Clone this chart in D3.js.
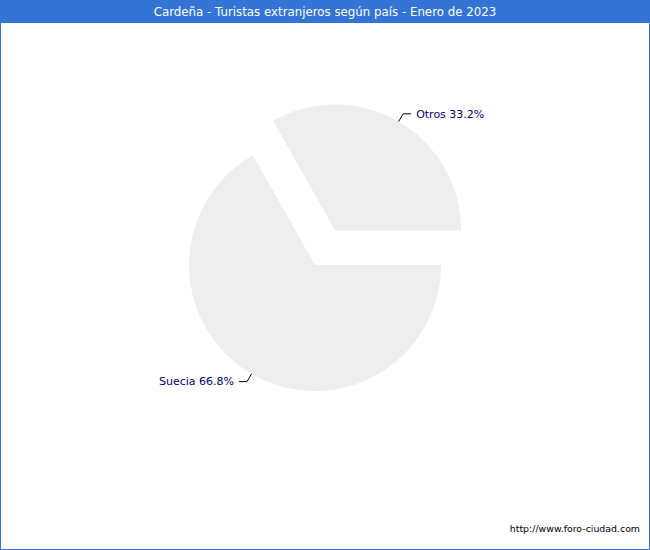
<!DOCTYPE html>
<html>
<head>
<meta charset="utf-8">
<script src="https://cdn.jsdelivr.net/npm/d3@7"></script>
<style>
  body { margin: 0; padding: 0; background: #fff; }
  svg { display: block; font-family: 'DejaVu Sans', Verdana, sans-serif; }
</style>
</head>
<body>
<svg id="chart"></svg>
<script>
const countries = ['Suecia', 'Otros'];
const shares = [66.8, 33.2];
const exploded = [false, true];

const width = 650;
const height = 550;
const radius = 126;
const cx = 315;
const cy = 265;
const explode = 40;

const svg = d3.select('#chart')
  .attr('width', width)
  .attr('height', height);

// background + frame
svg.append('rect')
  .attr('x', 0.5).attr('y', 0.5)
  .attr('width', width - 1).attr('height', height - 1)
  .attr('fill', '#fff')
  .attr('stroke', '#3474d6');

// title bar
svg.append('rect')
  .attr('x', 0).attr('y', 0)
  .attr('width', width).attr('height', 23)
  .attr('fill', '#3474d6');

svg.append('text')
  .attr('x', width / 2)
  .attr('y', 12)
  .attr('dy', '0.35em')
  .attr('text-anchor', 'middle')
  .attr('fill', '#fff')
  .attr('font-size', '11.8px')
  .text('Cardeña - Turistas extranjeros según país - Enero de 2023');

const data = countries.map((c, i) => ({ name: c, value: shares[i], exploded: exploded[i] }));

const pie = d3.pie()
  .value(d => d.value)
  .sort(null)
  .startAngle(Math.PI / 2)
  .endAngle(Math.PI / 2 + Math.PI * 2);

const arcs = pie(data);

const arc = d3.arc().innerRadius(0).outerRadius(radius);

const g = svg.append('g')
  .attr('transform', `translate(${cx},${cy})`);

function offset(d) {
  if (!d.data.exploded) return [0, 0];
  const a = (d.startAngle + d.endAngle) / 2;
  return [Math.sin(a) * explode, -Math.cos(a) * explode];
}

const slices = g.selectAll('g.slice')
  .data(arcs)
  .enter()
  .append('g')
  .attr('class', 'slice')
  .attr('transform', d => `translate(${offset(d)})`);

slices.append('path')
  .attr('d', arc)
  .attr('fill', '#eeeeee');

// leader lines and labels
slices.each(function (d) {
  const a = (d.startAngle + d.endAngle) / 2;
  const sx = Math.sin(a), sy = -Math.cos(a);
  const p0 = [sx * radius, sy * radius];
  const p1 = [sx * (radius + 9), sy * (radius + 9)];
  const right = sx > 0;
  const p2 = [p1[0] + (right ? 8 : -8), p1[1]];
  const sel = d3.select(this);
  sel.append('polyline')
    .attr('points', [p0, p1, p2].map(p => p.join(',')).join(' '))
    .attr('fill', 'none')
    .attr('stroke', '#000')
    .attr('stroke-width', 1);
  sel.append('text')
    .attr('x', p2[0] + (right ? 5 : -5))
    .attr('y', p2[1])
    .attr('dy', '0.35em')
    .attr('text-anchor', right ? 'start' : 'end')
    .attr('fill', '#000080')
    .attr('font-size', '11px')
    .text(`${d.data.name} ${d.data.value.toFixed(1)}%`);
});

// footer
svg.append('text')
  .attr('x', 640)
  .attr('y', 529)
  .attr('dy', '0.35em')
  .attr('text-anchor', 'end')
  .attr('fill', '#000')
  .attr('font-size', '9.4px')
  .text('http://www.foro-ciudad.com');
</script>
</body>
</html>
